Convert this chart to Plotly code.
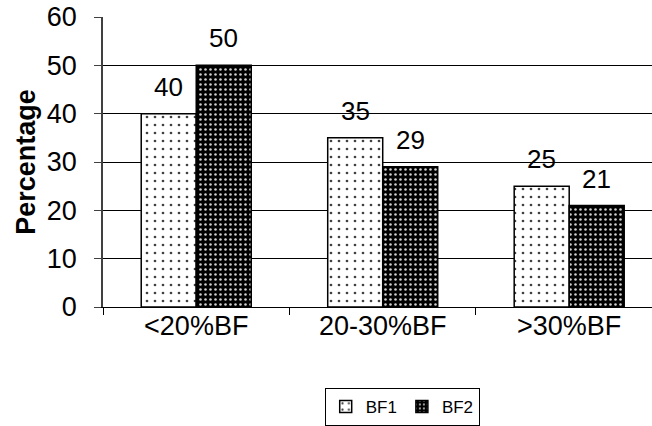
import plotly.graph_objects as go

categories = ["<20%BF", "20-30%BF", ">30%BF"]
bf1_values = [40, 35, 25]
bf2_values = [50, 29, 21]
y_ticks = [0, 10, 20, 30, 40, 50, 60]

FONT = "Liberation Sans, Arial, sans-serif"

fig = go.Figure()

fig.add_trace(go.Bar(
    name="BF1",
    x=categories,
    y=bf1_values,
    marker=dict(
        color="white",
        line=dict(color="black", width=1.5),
        pattern=dict(shape=".", bgcolor="white", fgcolor="#404040",
                     size=8, solidity=0.09, fillmode="replace"),
    ),
))
fig.add_trace(go.Bar(
    name="BF2",
    x=categories,
    y=bf2_values,
    marker=dict(
        color="black",
        line=dict(color="black", width=1.5),
        pattern=dict(shape=".", bgcolor="black", fgcolor="#d0d0d0",
                     size=5, solidity=0.2, fillmode="replace"),
    ),
))

# value labels above each bar
bar_half = 27.5
for cat, v1, v2 in zip(categories, bf1_values, bf2_values):
    for val, dx in ((v1, -bar_half), (v2, bar_half)):
        fig.add_annotation(
            x=cat, y=val, xref="x", yref="y",
            text=str(val), showarrow=False,
            xshift=dx, yshift=10, yanchor="bottom",
            font=dict(family=FONT, size=26, color="black"),
        )

fig.update_layout(
    width=652, height=426,
    margin=dict(l=103, r=0, t=17, b=119),
    paper_bgcolor="white",
    plot_bgcolor="white",
    barmode="group",
    bargap=0.41,
    bargroupgap=0,
    font=dict(family=FONT, size=27, color="black"),
    showlegend=True,
    legend=dict(
        orientation="h",
        x=0.545, xanchor="center",
        y=-0.279, yanchor="top",
        bordercolor="black", borderwidth=1,
        font=dict(family=FONT, size=17, color="black"),
        itemwidth=30,
        tracegroupgap=0,
    ),
    xaxis=dict(
        range=[-0.5, 2.444],
        showline=True, linecolor="black", linewidth=1,
        ticks="outside", ticklen=7, tickcolor="black",
        tickson="boundaries",
        showgrid=False,
        tickfont=dict(family=FONT, size=27),
        ticklabelstandoff=-5,
    ),
    yaxis=dict(
        range=[0, 60],
        tickvals=y_ticks,
        showline=True, linecolor="#404040", linewidth=1.5,
        ticks="outside", ticklen=7, tickcolor="#404040",
        showgrid=True, gridcolor="black", gridwidth=1,
        zeroline=False,
        tickfont=dict(family=FONT, size=27),
        ticklabelstandoff=12,
        title=dict(text="<b>Percentage</b>", font=dict(family=FONT, size=27), standoff=3),
    ),
)

fig.write_html("out.html")
